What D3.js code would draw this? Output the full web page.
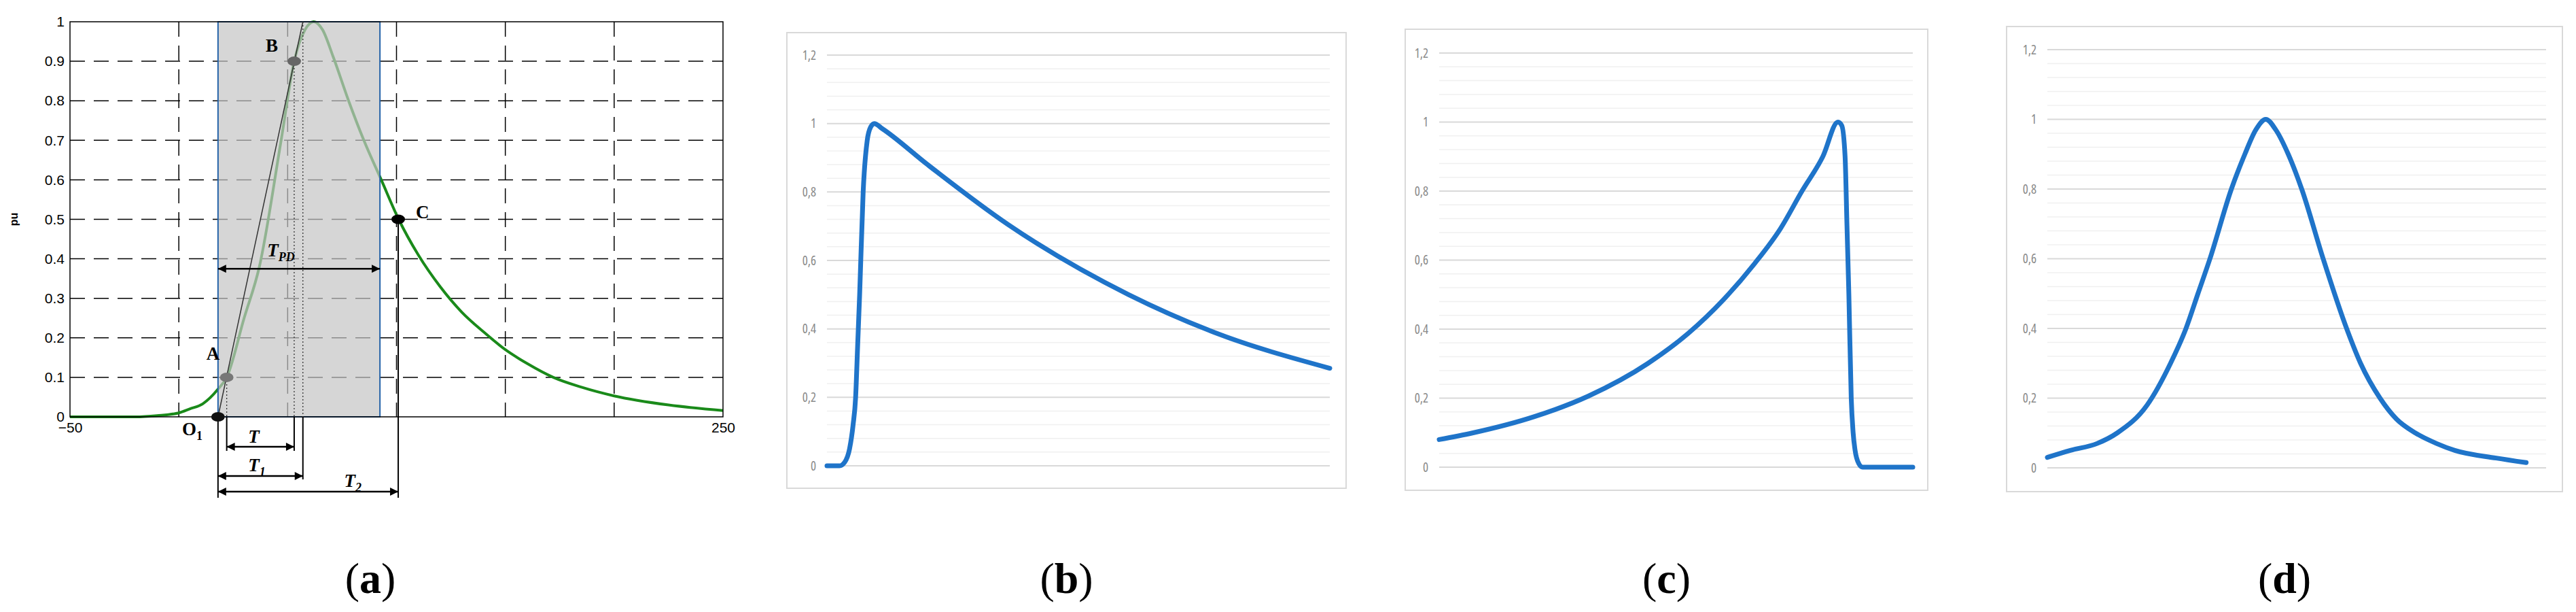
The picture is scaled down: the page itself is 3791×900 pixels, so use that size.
<!DOCTYPE html>
<html><head><meta charset="utf-8">
<script src="https://cdn.jsdelivr.net/npm/d3@7"></script>
<style>body{margin:0;background:#fff}svg{display:block}</style>
</head><body>
<svg id="c" width="3791" height="900"></svg>
<script>
// ---------- data ----------
const aX = [-50,-20,-10,0,5,11,18,22,30,37,47,53,58,62,66,71,78,85,93,101,110,120,130,140,150,160,172,185,200,225,250];
const aY = [0,0,0.003,0.01,0.02,0.033,0.07,0.1,0.25,0.38,0.7,0.9,0.98,1.0,0.98,0.91,0.8,0.7,0.6,0.5,0.41,0.33,0.265,0.215,0.17,0.135,0.1,0.075,0.053,0.03,0.016];
const aYTicks = [0,0.1,0.2,0.3,0.4,0.5,0.6,0.7,0.8,0.9,1];
const aXTicks = [-50,250];
const aGridX = [0,50,100,150,200];
const aBox = [18,92.4];
const aPoints = [{n:"O1",x:18,y:0,c:"#111"},{n:"A",x:22,y:0.1,c:"#777"},{n:"B",x:53,y:0.9,c:"#666"},{n:"C",x:100.8,y:0.5,c:"#000"}];
const aTangentTop = [57,1];

const bX = [0,0.025,0.035,0.045,0.052,0.057,0.061,0.065,0.072,0.08,0.087,0.094,0.11,0.2,0.36,0.6,0.77,1.0];
const bY = [0,0,0.01,0.05,0.12,0.2,0.35,0.5,0.8,0.95,0.99,1.0,0.985,0.88,0.705,0.5,0.39,0.285];
const cX = [0,0.07,0.2,0.315,0.44,0.526,0.6,0.666,0.72,0.766,0.81,0.842,0.85,0.857,0.861,0.865,0.87,0.874,0.878,0.886,0.894,1.0];
const cY = [0.08,0.099,0.146,0.206,0.3,0.388,0.485,0.59,0.69,0.8,0.9,1.0,0.99,0.9,0.7,0.5,0.2,0.1,0.05,0.01,0,0];
const dX = [0,0.046,0.1,0.14,0.2,0.247,0.278,0.302,0.326,0.369,0.396,0.418,0.438,0.458,0.483,0.51,0.553,0.6,0.628,0.667,0.7,0.738,0.78,0.817,0.9,0.96];
const dY = [0.03,0.05,0.07,0.1,0.18,0.3,0.4,0.5,0.6,0.8,0.9,0.97,1.0,0.97,0.9,0.8,0.6,0.4,0.3,0.2,0.14,0.1,0.07,0.05,0.028,0.015];
const excelTicks = [0,0.2,0.4,0.6,0.8,1,1.2];
const tickFmt = d3.format(".1f");

const svg = d3.select("#c");
const defs=svg.append("defs");
defs.append("marker").attr("id","ah").attr("viewBox","0 0 10 10").attr("refX",10).attr("refY",5)
  .attr("orient","auto-start-reverse").attr("markerUnits","userSpaceOnUse")
  .attr("markerWidth",16).attr("markerHeight",12)
  .append("path").attr("d","M0,0 L10,5 L0,10 z").attr("fill","#000");

// ---------- panel (a) ----------
(function(){
  const L=103,R=1064,T=32,B=613;
  const x=d3.scaleLinear().domain([-50,250]).range([L,R]);
  const y=d3.scaleLinear().domain([0,1]).range([B,T]);
  const g=svg.append("g");
  const dash="22,13";
  g.selectAll(".gy").data(aYTicks.filter(d=>d>0&&d<1)).join("line")
    .attr("x1",L).attr("x2",R).attr("y1",d=>y(d)).attr("y2",d=>y(d))
    .attr("stroke","#000").attr("stroke-width",1.5).attr("stroke-dasharray",dash);
  g.selectAll(".gx").data(aGridX).join("line")
    .attr("x1",d=>x(d)).attr("x2",d=>x(d)).attr("y1",T).attr("y2",B)
    .attr("stroke","#000").attr("stroke-width",1.5).attr("stroke-dasharray",dash);
  const line=d3.line().x((d,i)=>x(aX[i])).y(d=>y(d)).curve(d3.curveMonotoneX);
  g.append("path").attr("d",line(aY)).attr("fill","none").attr("stroke","#1a8a1a").attr("stroke-width",4);
  g.append("rect").attr("x",x(aBox[0])).attr("y",T).attr("width",x(aBox[1])-x(aBox[0])).attr("height",B-T)
    .attr("fill","#c4c4c4").attr("fill-opacity",0.7).attr("stroke","#2462a8").attr("stroke-width",2);
  g.append("rect").attr("x",L).attr("y",T).attr("width",R-L).attr("height",B-T).attr("fill","none").attr("stroke","#000").attr("stroke-width",1.5);
  const ya=g.append("g").attr("transform",`translate(${L},0)`).call(d3.axisLeft(y).tickValues(aYTicks).tickSize(0).tickPadding(8).tickFormat(d=>d===0||d===1?d:tickFmt(d)));
  ya.select(".domain").remove();
  ya.selectAll("text").attr("font-family","Liberation Sans").attr("font-size",21).attr("fill","#000");
  const xa=g.append("g").attr("transform",`translate(0,${B})`).call(d3.axisBottom(x).tickValues(aXTicks).tickSize(0).tickPadding(8));
  xa.select(".domain").remove();
  xa.selectAll("text").attr("font-family","Liberation Sans").attr("font-size",21).attr("fill","#000");
  g.append("text").attr("transform",`translate(26,${(T+B)/2}) rotate(-90)`).attr("text-anchor","middle")
    .attr("font-family","Liberation Sans").attr("font-weight","bold").attr("font-size",16).text("pu");
  g.append("line").attr("x1",x(aPoints[0].x)).attr("y1",y(0)).attr("x2",x(aTangentTop[0])).attr("y2",y(aTangentTop[1]))
    .attr("stroke","#333").attr("stroke-width",1.5);
  const dot=(xv,y1,y2)=>g.append("line").attr("x1",x(xv)).attr("x2",x(xv)).attr("y1",y1).attr("y2",y2).attr("stroke","#333").attr("stroke-width",1.3).attr("stroke-dasharray","2,3");
  const sol=(xv,y1,y2)=>g.append("line").attr("x1",x(xv)).attr("x2",x(xv)).attr("y1",y1).attr("y2",y2).attr("stroke","#000").attr("stroke-width",2);
  dot(22,y(0.1),B); dot(53,y(0.9),B); dot(57,T,B);
  sol(18,B,B+119); sol(22,B,B+50); sol(53,B,B+50); sol(57,B,B+92); sol(100.8,y(0.5),B+119);
  const arrow=(x1,x2,yy)=>g.append("line").attr("x1",x(x1)).attr("x2",x(x2)).attr("y1",yy).attr("y2",yy)
    .attr("stroke","#000").attr("stroke-width",2.5).attr("marker-start","url(#ah)").attr("marker-end","url(#ah)");
  arrow(aBox[0],aBox[1],y(0.375));
  arrow(22,53,B+44); arrow(18,57,B+87); arrow(18,100.8,B+110);
  g.selectAll(".pt").data(aPoints).join("ellipse").attr("cx",d=>x(d.x)).attr("cy",d=>y(d.y)).attr("rx",10).attr("ry",7).attr("fill",d=>d.c);
  const lab=(t,px,py,sub,it)=>{const tx=g.append("text").attr("x",px).attr("y",py).attr("font-family","Liberation Serif").attr("font-weight","bold").attr("font-size",27).attr("font-style",it?"italic":"normal").text(t);
    if(sub) tx.append("tspan").attr("font-size",18).attr("dy",7).text(sub); return tx;};
  lab("O",268,640,"1",false);
  lab("A",x(22)-30,y(0.1)-26,null,false);
  lab("B",x(53)-42,y(0.9)-14,null,false);
  lab("C",x(100.8)+26,y(0.5)-2,null,false);
  lab("T",x(45)-14,y(0.375)-18,"PD",true);
  lab("T",x(35)-10,B+38,null,true);
  lab("T",x(35)-10,B+80,"1",true);
  lab("T",x(76),B+103,"2",true);
  svg.append("text").attr("x",x(88)).attr("y",872).attr("text-anchor","middle").attr("font-family","Liberation Serif").attr("font-size",64)
    .html('(<tspan font-weight="bold">a</tspan>)');
})();

// ---------- excel-style panels ----------
function excelPanel(box,plot,xs,ys,label){
  const g=svg.append("g");
  g.append("rect").attr("x",box[0]).attr("y",box[1]).attr("width",box[2]-box[0]).attr("height",box[3]-box[1]).attr("fill","#fff").attr("stroke","#d9d9d9").attr("stroke-width",2);
  const x=d3.scaleLinear().domain([0,1]).range([plot[0],plot[2]]);
  const y=d3.scaleLinear().domain([0,1.2]).range([plot[3],plot[1]]);
  const minor=d3.range(0,31).map(i=>i*0.04).filter(v=>Math.abs(v/0.2-Math.round(v/0.2))>1e-6);
  g.selectAll(".mn").data(minor).join("line").attr("x1",plot[0]).attr("x2",plot[2]).attr("y1",d=>y(d)).attr("y2",d=>y(d)).attr("stroke","#f0f0f0").attr("stroke-width",1.5);
  g.selectAll(".mj").data(excelTicks).join("line").attr("x1",plot[0]).attr("x2",plot[2]).attr("y1",d=>y(d)).attr("y2",d=>y(d)).attr("stroke","#d9d9d9").attr("stroke-width",2);
  const ya=g.append("g").attr("transform",`translate(${plot[0]-12},0)`).call(d3.axisLeft(y).tickValues(excelTicks).tickSize(0).tickPadding(4)
    .tickFormat(d=>(d===0||d===1)?String(d):tickFmt(d).replace(".",",")));
  ya.select(".domain").remove();
  ya.selectAll("text").attr("font-family","Open Sans").attr("font-size",19).attr("fill","#8a8a8a").style("font-stretch","condensed");
  const line=d3.line().x((d,i)=>x(xs[i])).y(d=>y(d)).curve(d3.curveMonotoneX);
  g.append("path").attr("d",line(ys)).attr("fill","none").attr("stroke","#1f74c9").attr("stroke-width",7).attr("stroke-linecap","round");
  svg.append("text").attr("x",(box[0]+box[2])/2).attr("y",872).attr("text-anchor","middle").attr("font-family","Liberation Serif").attr("font-size",64)
    .html(`(<tspan font-weight="bold">${label}</tspan>)`);
}
excelPanel([1158,48,1981,718],[1217,81,1957,685],bX,bY,"b");
excelPanel([2068,43,2837,721],[2118,78,2815,687],cX,cY,"c");
excelPanel([2953,39,3771,723],[3013,73,3747,688],dX,dY,"d");
</script>
</body></html>
